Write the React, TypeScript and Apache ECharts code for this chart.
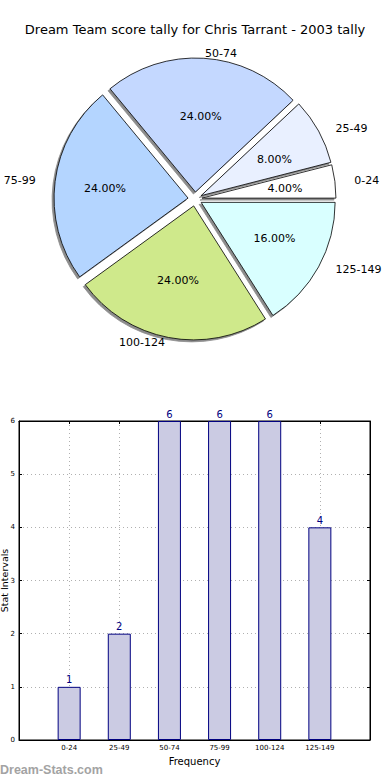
import React, { useEffect, useRef } from "react";
import * as echarts from "echarts";

const TITLE = "Dream Team score tally for Chris Tarrant - 2003 tally";
const categories = ["0-24", "25-49", "50-74", "75-99", "100-124", "125-149"];
const counts = [1, 2, 6, 6, 6, 4];
const pieColors = ["#ffffff", "#e9f0ff", "#c4d8ff", "#b4d5ff", "#cfe98b", "#d9ffff"];

// pie geometry (the reference pie is a slightly oval matplotlib pie)
const R = 134;
const OFFSET = 7;
const PIE_CX = 195;
const PIE_CY = 199;
const RX = 139.5;
const RY = 127;
const EXPLODE = 0.05;
const LABEL_DIST = 1.1;
const PCT_DIST = 0.6;

export default function App() {
  const ref = useRef<HTMLDivElement>(null);
  useEffect(() => {
    document.body.style.margin = "0";
    const chart = echarts.init(ref.current!, null, { renderer: "svg" });
    const total = counts.reduce((a, b) => a + b, 0);
    const font = "DejaVu Sans";
    const midAngle = (i: number) => {
      let before = 0;
      for (let k = 0; k < i; k++) before += counts[k];
      return ((before + counts[i] / 2) / total) * 2 * Math.PI;
    };
    const placeAt = (dist: number, anchored: boolean) => (p: any) => {
      const a = midAngle(p.dataIndex);
      const c = Math.cos(a);
      const s = Math.sin(a);
      const x = PIE_CX + (dist + EXPLODE) * RX * c;
      const y = PIE_CY - (dist + EXPLODE) * RY * s;
      return {
        x,
        y,
        align: anchored ? (c > 0 ? "left" : "right") : "center",
        verticalAlign: "middle",
      };
    };
    const pieData = categories.map((c, i) => ({
      name: c,
      value: counts[i],
      selected: true,
      itemStyle: { color: pieColors[i] },
    }));
    const plainData = categories.map((c, i) => ({ name: c, value: counts[i] }));
    const ghost = {
      type: "pie",
      center: [PIE_CX, PIE_CY],
      radius: [0, R],
      startAngle: 0,
      clockwise: false,
      silent: true,
      selectedMode: false,
      z: 3,
      data: plainData,
      itemStyle: { color: "rgba(0,0,0,0)", borderWidth: 0 },
      labelLine: { show: false },
    };
    chart.setOption({
      animation: false,
      textStyle: { fontFamily: font },
      title: {
        text: TITLE,
        left: "center",
        top: 18,
        textStyle: { fontFamily: font, fontSize: 13, fontWeight: "normal", color: "#000" },
      },
      graphic: [
        {
          type: "text",
          left: 0,
          top: 763,
          style: {
            text: "Dream-Stats.com",
            fill: "#a3a3a3",
            font: "bold 12.5px 'Liberation Sans'",
          },
        },
      ],
      series: [
        {
          type: "pie",
          center: [PIE_CX, PIE_CY],
          radius: [0, R],
          startAngle: 0,
          clockwise: false,
          selectedMode: "multiple",
          selectedOffset: OFFSET,
          silent: true,
          data: pieData,
          itemStyle: {
            borderColor: "#000",
            borderWidth: 0.8,
            shadowColor: "rgba(0,0,0,0.45)",
            shadowBlur: 0,
            shadowOffsetX: -2,
            shadowOffsetY: 2,
          },
          label: { show: false },
          labelLine: { show: false },
        },
        {
          ...ghost,
          label: {
            show: true,
            position: "inside",
            formatter: "{b}",
            fontFamily: font,
            fontSize: 11,
            color: "#000",
          },
          labelLayout: placeAt(LABEL_DIST, true),
        },
        {
          ...ghost,
          label: {
            show: true,
            position: "inside",
            formatter: (p: any) => ((p.value / total) * 100).toFixed(2) + "%",
            fontFamily: font,
            fontSize: 11,
            color: "#000",
          },
          labelLayout: placeAt(PCT_DIST, false),
        },
        {
          type: "bar",
          xAxisIndex: 0,
          yAxisIndex: 0,
          data: counts.map((v, i) => [i, v]),
          barWidth: 23,
          itemStyle: { color: "#cbcbe3", borderColor: "#000080", borderWidth: 1 },
          label: {
            show: true,
            position: "top",
            distance: 2,
            color: "#000080",
            fontFamily: font,
            fontSize: 10,
          },
          z: 1,
        },
      ],
      grid: {
        left: 19,
        top: 421,
        width: 351,
        height: 319,
        outerBoundsMode: "none",
        containLabel: false,
        show: true,
        borderColor: "#000",
        borderWidth: 1,
      },
      xAxis: [
        {
          type: "value",
          min: -1,
          max: 6,
          interval: 1,
          position: "bottom",
          name: "Frequency",
          nameLocation: "middle",
          nameGap: 16,
          nameMoveOverlap: false,
          nameTextStyle: { fontFamily: font, fontSize: 10, color: "#000" },
          axisLine: { show: true, onZero: false, lineStyle: { color: "#000" } },
          axisTick: { show: true, inside: true, length: 3, lineStyle: { color: "#000" } },
          axisLabel: {
            fontFamily: font,
            fontSize: 7,
            color: "#000",
            margin: 4,
            showMinLabel: true,
            showMaxLabel: true,
            formatter: (v: number) => (v >= 0 && v < categories.length ? categories[v] : ""),
          },
          splitLine: { show: true, lineStyle: { color: "#b0b0b0", type: [1, 3], width: 1 } },
        },
        {
          type: "value",
          min: -1,
          max: 6,
          interval: 1,
          position: "top",
          axisLine: { show: true, onZero: false, lineStyle: { color: "#000" } },
          axisTick: { show: true, inside: true, length: 3, lineStyle: { color: "#000" } },
          axisLabel: { show: false },
          splitLine: { show: false },
        },
      ],
      yAxis: [
        {
          type: "value",
          min: 0,
          max: 6,
          interval: 1,
          name: "Stat Intervals",
          nameLocation: "middle",
          nameGap: 10,
          nameMoveOverlap: false,
          nameRotate: 90,
          nameTextStyle: { fontFamily: font, fontSize: 9.5, color: "#000" },
          axisLine: { show: true, onZero: false, lineStyle: { color: "#000" } },
          axisTick: { show: true, inside: true, length: 3, lineStyle: { color: "#000" } },
          axisLabel: { fontFamily: font, fontSize: 7, color: "#000", margin: 4 },
          splitLine: { show: true, lineStyle: { color: "#b0b0b0", type: [1, 3], width: 1 } },
        },
        {
          type: "value",
          min: 0,
          max: 6,
          interval: 1,
          position: "right",
          axisLine: { show: true, onZero: false, lineStyle: { color: "#000" } },
          axisTick: { show: true, inside: true, length: 3, lineStyle: { color: "#000" } },
          axisLabel: { show: false },
          splitLine: { show: false },
        },
      ],
    });
    return () => chart.dispose();
  }, []);
  return (
    <div
      ref={ref}
      style={{ position: "absolute", left: 0, top: 0, width: 390, height: 780, background: "#fff" }}
    />
  );
}
